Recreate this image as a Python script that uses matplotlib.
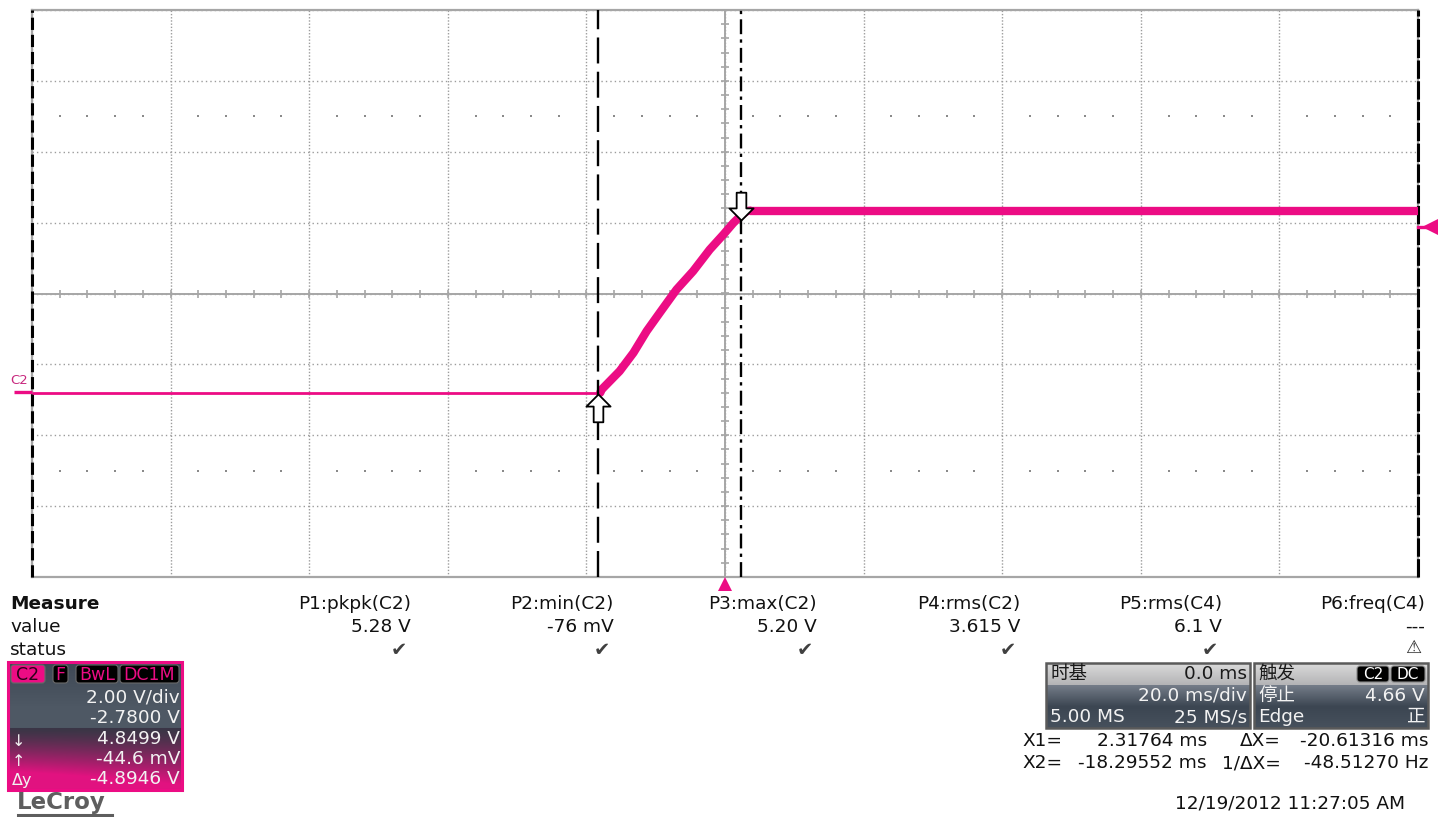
import numpy as np
import matplotlib
matplotlib.use("Agg")
import matplotlib.pyplot as plt
from matplotlib.path import Path
from matplotlib.patches import Rectangle, FancyBboxPatch
import matplotlib.transforms as mtransforms

plt.rcParams['font.family'] = ['DejaVu Sans', 'Noto Sans CJK SC']

W, H = 1443, 817

# ---- acquisition settings ----
time_per_div = 20.0      # ms/div
volts_per_div = 2.0      # V/div
offset = -2.78           # V
n_hdiv, n_vdiv = 10, 8
trigger_delay = 0.0      # ms
trigger_level = 4.66     # V

# ---- channel C2 waveform (ms, V) ----
t_base = [-100.0, -18.0]
v_base = [-0.04, -0.04]
t_ramp = [-18.0, -17.8, -16.6, -15.2, -13.2, -11.3, -9.4, -7.0, -4.6, -2.2, -0.25, 1.2, 2.2, 3.1, 3.6]
v_ramp = [-0.02, 0.07, 0.31, 0.59, 1.11, 1.72, 2.24, 2.89, 3.41, 4.02, 4.44, 4.77, 4.96, 5.10, 5.12]
t_top = [3.6, 100.0]
v_top = [5.12, 5.12]

# ---- cursors ----
cursor_x1 = 2.31764      # ms
cursor_x2 = -18.29552    # ms
cursor_y_hi = 4.8499     # V
cursor_y_lo = -0.0446    # V

# ---- measurement table ----
measure_names = ['P1:pkpk(C2)', 'P2:min(C2)', 'P3:max(C2)', 'P4:rms(C2)', 'P5:rms(C4)', 'P6:freq(C4)']
measure_values = ['5.28 V', '-76 mV', '5.20 V', '3.615 V', '6.1 V', '---']
measure_ok = [True, True, True, True, True, False]

# ---- channel descriptor ----
ch_tags = ['C2', 'F', 'BwL', 'DC1M']
ch_lines = ['2.00 V/div', '-2.7800 V', '4.8499 V', '-44.6 mV', '-4.8946 V']
ch_symbols = ['', '', '\u2193', '\u2191', '\u0394y']

# ---- timebase / trigger descriptors ----
tb_rows = [('时基', '0.0 ms'), ('', '20.0 ms/div'), ('5.00 MS', '25 MS/s')]
trig_rows = [('触发', ''), ('停止', '4.66 V'), ('Edge', '正')]
trig_tags = ['C2', 'DC']

# ---- cursor readout ----
cursor_rows = [('X1=', '2.31764 ms', '\u0394X=', '-20.61316 ms'),
               ('X2=', '-18.29552 ms', '1/\u0394X=', '-48.51270 Hz')]
timestamp = '12/19/2012 11:27:05 AM'

MAG = '#EC0C84'
GRID = '#9C9C9C'
AXC = '#A6A6A6'
FS = 13.3

fig = plt.figure(figsize=(W / 100, H / 100), dpi=100)
fig.patch.set_facecolor('white')

# overlay in pixel units for the panels below the grid
ov = fig.add_axes([0, 0, 1, 1], zorder=0)
ov.set_xlim(0, W)
ov.set_ylim(H, 0)
ov.axis('off')
ov.patch.set_visible(False)

# ---- scope grid ----
L, R, T, B = 32, 1418, 10, 577
ax = fig.add_axes([L / W, 1 - B / H, (R - L) / W, (B - T) / H], zorder=2)
centre_v = -offset
half_t = time_per_div * n_hdiv / 2
half_v = volts_per_div * n_vdiv / 2
ax.set_xlim(-half_t, half_t)
ax.set_ylim(centre_v - half_v, centre_v + half_v)
ax.set_xticks(np.arange(-half_t, half_t + 0.1, time_per_div))
ax.set_yticks(centre_v + np.arange(-n_vdiv / 2, n_vdiv / 2 + 0.1) * volts_per_div)
ax.tick_params(length=0, labelbottom=False, labelleft=False)
ax.xaxis.grid(True, color=GRID, ls=(0, (1, 1.3)), lw=1.0)
ax.yaxis.grid(True, color=GRID, ls=(0, (1, 2.2)), lw=1.0)
ax.set_axisbelow(True)
for s in ax.spines.values():
    s.set_color(AXC)
    s.set_linewidth(1.6)

# centre cross with fine ticks
ax.axvline(0, color=AXC, lw=1.4, zorder=1)
ax.axhline(centre_v, color=AXC, lw=1.4, zorder=1)
minor_t = np.arange(-half_t, half_t + 0.1, time_per_div / 5)
minor_v = centre_v + np.arange(-half_v, half_v + 0.01, volts_per_div / 5)
ax.plot(minor_t, np.full_like(minor_t, centre_v), ls='none', marker='|', ms=6,
        mew=1.2, color=AXC, zorder=1)
ax.plot(np.zeros_like(minor_v), minor_v, ls='none', marker='_', ms=6,
        mew=1.2, color=AXC, zorder=1)

# dot rows at +/- 2.5 divisions
dot_t = np.array([t for t in minor_t if abs(t / time_per_div - round(t / time_per_div)) > 1e-6])
for k in (-2.5, 2.5):
    ax.plot(dot_t, np.full_like(dot_t, centre_v + k * volts_per_div), ls='none',
            marker='s', ms=1.6, mew=0, color='#8A8A8A', zorder=1)

# dashed black frame edges
ax.axvline(-half_t, color='black', lw=2.2, ls=(0, (4, 1.6)), zorder=3, clip_on=False)
ax.axvline(half_t, color='black', lw=2.2, ls=(0, (6, 0.8)), zorder=3, clip_on=False)

# ---- waveform ----
ax.plot(t_base, v_base, color=MAG, lw=2.0, solid_capstyle='butt', zorder=4)
ax.plot(t_ramp, v_ramp, color=MAG, lw=6.0, solid_capstyle='round',
        solid_joinstyle='round', zorder=4)
ax.plot(t_top, v_top, color=MAG, lw=6.0, solid_capstyle='butt', zorder=4)

# ---- cursors ----
ax.axvline(cursor_x2, color='black', lw=1.7, ls=(0, (11, 3.5)), zorder=5)
ax.axvline(cursor_x1, color='black', lw=1.7, ls=(0, (6.3, 2.2, 1.4, 2.2)), zorder=5)

arrow_up = Path([(0, 0), (-1, -1.0), (-0.4, -1.0), (-0.4, -2.3), (0.4, -2.3),
                 (0.4, -1.0), (1, -1.0), (0, 0)],
                [Path.MOVETO] + [Path.LINETO] * 6 + [Path.CLOSEPOLY])
arrow_down = Path(arrow_up.vertices * np.array([1, -1]), arrow_up.codes)
ax.plot([cursor_x2], [cursor_y_lo], marker=arrow_up, ms=40, mfc='white', mec='black',
        mew=1.3, ls='none', zorder=6, clip_on=False)
ax.plot([cursor_x1], [cursor_y_hi], marker=arrow_down, ms=40, mfc='white', mec='black',
        mew=1.3, ls='none', zorder=6, clip_on=False)

# ---- trigger markers ----
bx = mtransforms.blended_transform_factory(ax.transData, ax.transAxes)
by = mtransforms.blended_transform_factory(ax.transAxes, ax.transData)
ax.plot([trigger_delay], [-0.013], marker='^', ms=10, color=MAG, mew=0,
        transform=bx, clip_on=False, zorder=6)
ax.plot([1.0, 1.0065], [trigger_level, trigger_level], color=MAG, lw=2.4,
        transform=by, clip_on=False, zorder=6)
ax.plot([1.0085], [trigger_level], marker='<', ms=11, color=MAG, mew=0,
        transform=by, clip_on=False, zorder=6)

# ---- ground marker for C2 ----
ax.plot([-0.013, 0.0], [0.0, 0.0], color=MAG, lw=2.4, transform=by,
        clip_on=False, solid_capstyle='butt', zorder=6)
ax.annotate('C2', xy=(-0.0095, 0.0), xycoords=by, xytext=(0, 3.5),
            textcoords='offset points', ha='center', va='bottom',
            fontsize=9.5, color='#C8287E', annotation_clip=False)

# ---- measurement table ----
def ftext(x, y, s, **kw):
    kw.setdefault('fontsize', FS)
    kw.setdefault('va', 'center')
    kw.setdefault('color', '#111111')
    ov.text(x, y, s, **kw)

col_right = [411, 614, 817, 1020, 1222, 1425]
ftext(10, 604, 'Measure', ha='left', weight='bold')
ftext(10, 627, 'value', ha='left')
ftext(10, 650, 'status', ha='left')
for xr, name, val, ok in zip(col_right, measure_names, measure_values, measure_ok):
    ftext(xr, 604, name, ha='right')
    ftext(xr, 627, val, ha='right')
    if ok:
        ftext(xr - 12, 650, '\u2714', ha='center', color='#404040', fontsize=14)
    else:
        ftext(xr - 12, 648, '\u26A0', ha='center', color='#303030', fontsize=13)

# ---- channel descriptor box ----
bx0, bx1, by0, by1 = 8, 182, 662, 790
ny, nx = 128, 174
xx = np.linspace(0, 1, nx)
slate_top = np.array([0x3E, 0x48, 0x54]) / 255
slate_mid = np.array([0x4E, 0x58, 0x64]) / 255
dark = np.array([0x3A, 0x36, 0x46]) / 255
mag = np.array([0xE2, 0x12, 0x80]) / 255
img = np.zeros((ny, nx, 3))
for i in range(ny):
    yp = by0 + i
    if yp < 706:
        img[i] = slate_top + (slate_mid - slate_top) * (yp - by0) / 44
    elif yp < 728:
        img[i] = slate_mid
    else:
        f = (yp - 728) / (by1 - 728)
        w = np.clip(f * 1.1 + (1 - xx) * 0.35 * f, 0, 1) ** 1.3
        img[i] = dark[None, :] * (1 - w[:, None]) + mag[None, :] * w[:, None]
ov.imshow(img, extent=[bx0, bx1, by1, by0], aspect='auto', zorder=1, interpolation='bilinear')
ov.add_patch(Rectangle((bx0, by0), bx1 - bx0, by1 - by0, fill=False, ec=MAG, lw=2.2, zorder=3))

tag_x = [(11, 45), (53, 68), (76, 118), (120, 179)]
for (x0, x1), tag in zip(tag_x, ch_tags):
    first = tag == ch_tags[0]
    ov.add_patch(FancyBboxPatch((x0, 665), x1 - x0, 18, boxstyle='round,pad=0,rounding_size=3',
                                fc=MAG if first else 'black', ec='#6a6a6a', lw=0.8, zorder=2))
    ov.text((x0 + x1) / 2, 674.5, tag, ha='center', va='center', fontsize=12.5,
            color='#2a0018' if first else MAG, zorder=4)

line_y = [697, 718, 739, 759, 779]
for y, s, sym in zip(line_y, ch_lines, ch_symbols):
    ov.text(180, y, s, ha='right', va='center', fontsize=FS, color='#F2F2F2', zorder=4)
    if sym:
        ov.text(12, y + 2, sym, ha='left', va='center', fontsize=11.5, color='#F2F2F2', zorder=4)

# LeCroy logo
ov.text(17, 802, 'LeCroy', ha='left', va='center', fontsize=16.5, weight='bold',
        color='#5E5E5E', zorder=4)
ov.plot([18, 112], [815, 815], color='#5E5E5E', lw=2.2, zorder=4)

# ---- timebase and trigger boxes ----
def desc_box(x0, x1, rows):
    y0, ym, y1 = 663, 685, 728
    top = np.linspace(0, 1, 22)[:, None, None]
    top_img = (np.array([0xDA, 0xDA, 0xDA]) / 255) * (1 - top) + (np.array([0xB4, 0xB4, 0xB6]) / 255) * top
    ov.imshow(np.repeat(top_img, 2, axis=1), extent=[x0, x1, ym, y0], aspect='auto', zorder=1)
    bot = np.linspace(0, 1, 43)[:, None, None]
    c0 = np.array([0x74, 0x7C, 0x88]) / 255
    c1 = np.array([0x3C, 0x46, 0x52]) / 255
    c2 = np.array([0x46, 0x50, 0x5C]) / 255
    bot_img = np.where(bot < 0.5, c0 * (1 - bot * 2) + c1 * (bot * 2), c1 * (2 - bot * 2) + c2 * (bot * 2 - 1))
    ov.imshow(np.repeat(bot_img, 2, axis=1), extent=[x0, x1, y1, ym], aspect='auto', zorder=1)
    ov.add_patch(Rectangle((x0, y0), x1 - x0, y1 - y0, fill=False, ec='#5A5A5A', lw=1.8, zorder=3))
    ys = [674, 696, 717]
    for i, ((lt, rt), y) in enumerate(zip(rows, ys)):
        col = '#1A1A1A' if i == 0 else '#F2F2F2'
        if lt:
            ov.text(x0 + 4, y, lt, ha='left', va='center', fontsize=FS, color=col, zorder=4)
        if rt:
            ov.text(x1 - 3, y, rt, ha='right', va='center', fontsize=FS, color=col, zorder=4)

desc_box(1046, 1250, tb_rows)
desc_box(1254, 1428, trig_rows)
for (x0, x1), tag in zip([(1357, 1389), (1391, 1425)], trig_tags):
    ov.add_patch(FancyBboxPatch((x0, 666), x1 - x0, 16, boxstyle='round,pad=0,rounding_size=3',
                                fc='black', ec='#888888', lw=0.8, zorder=3))
    ov.text((x0 + x1) / 2, 674.5, tag, ha='center', va='center', fontsize=11,
            color='white', zorder=4)

# ---- cursor readout ----
for (a, b, c, d), y in zip(cursor_rows, [741, 763]):
    ftext(1022, y, a, ha='left')
    ftext(1207, y, b, ha='right')
    ftext(1281, y, c, ha='right')
    ftext(1428, y, d, ha='right')

ftext(1290, 804, timestamp, ha='center')

fig.savefig('out.png', dpi=100, facecolor='white')
